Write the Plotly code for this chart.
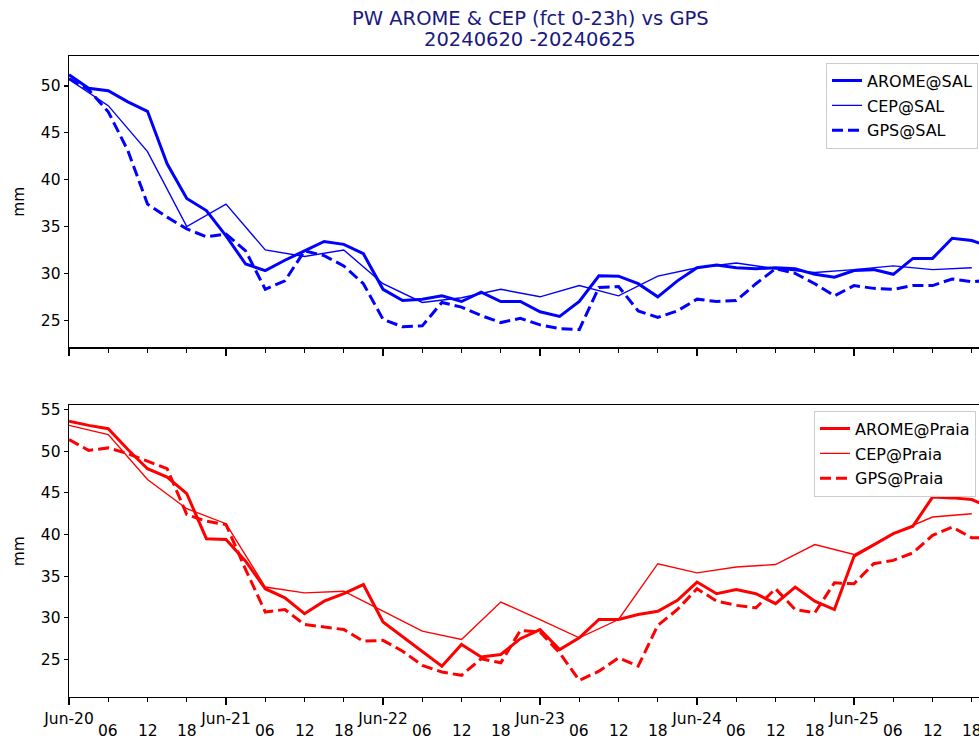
import pandas as pd
import plotly.graph_objects as go

# ---------------- data ----------------
t3 = pd.date_range("2024-06-20 00:00", periods=48, freq="3h")
t6 = pd.date_range("2024-06-20 00:00", periods=24, freq="6h")

arome_sal = [51.2, 49.75, 49.5, 48.3, 47.3, 41.7, 38.0, 36.7, 34.0, 31.0,
             30.3, 31.4, 32.4, 33.4, 33.1, 32.1, 28.3, 27.1, 27.25, 27.6,
             27.0, 28.0, 27.0, 27.0, 25.9, 25.4, 27.0, 29.75, 29.7, 28.9,
             27.5, 29.2, 30.6, 30.9, 30.6, 30.5, 30.6, 30.5, 29.9, 29.6,
             30.3, 30.4, 29.9, 31.6, 31.6, 33.75, 33.5, 32.8]
cep_sal = [50.7, 47.9, 43.0, 35.0, 37.4, 32.5, 31.8, 32.5, 28.9, 26.9, 27.4, 28.3,
           27.5, 28.7, 27.6, 29.7, 30.6, 31.1, 30.5, 30.1, 30.4, 30.8, 30.4, 30.6]
gps_sal = [50.8, 49.6, 47.25, 43.1, 37.4, 36.0, 34.75, 33.9, 34.2, 32.4,
           28.3, 29.2, 32.4, 31.9, 30.8, 28.9, 25.1, 24.3, 24.4, 26.9,
           26.4, 25.5, 24.75, 25.2, 24.5, 24.1, 24.0, 28.5, 28.6, 26.0,
           25.3, 26.0, 27.25, 27.0, 27.1, 28.9, 30.5, 30.0, 28.9, 27.6,
           28.7, 28.4, 28.3, 28.7, 28.7, 29.4, 29.1, 29.3]

arome_praia = [53.6, 53.1, 52.7, 50.2, 47.9, 46.9, 44.9, 39.5, 39.4, 36.8,
               33.5, 32.4, 30.5, 32.0, 32.9, 34.0, 29.5, 27.7, 26.0, 24.2,
               26.8, 25.3, 25.6, 27.5, 28.6, 26.2, 27.6, 29.8, 29.8, 30.4,
               30.8, 32.1, 34.3, 32.9, 33.4, 32.9, 31.7, 33.7, 32.0, 31.0,
               37.4, 38.8, 40.1, 41.0, 44.5, 44.4, 44.2, 43.2]
cep_praia = [53.1, 52.0, 46.6, 43.1, 41.3, 33.7, 33.0, 33.2, 30.8, 28.4, 27.4, 31.9,
             29.8, 27.6, 29.8, 36.5, 35.4, 36.1, 36.4, 38.8, 37.6, 40.1, 42.1, 42.5]
gps_praia = [51.4, 50.1, 50.4, 49.7, 48.8, 47.9, 42.4, 41.6, 41.2, 35.8,
             30.7, 31.0, 29.2, 28.9, 28.6, 27.2, 27.3, 26.0, 24.3, 23.5,
             23.1, 25.1, 24.6, 28.5, 28.3, 25.8, 22.5, 23.6, 25.2, 24.2,
             29.1, 31.0, 33.5, 32.0, 31.5, 31.2, 33.5, 31.0, 30.6, 34.2,
             34.1, 36.5, 36.9, 37.8, 39.9, 40.9, 39.6, 39.6]

day_ticks = pd.date_range("2024-06-20", periods=6, freq="D")
day_labels = [d.strftime("%b-%d") for d in day_ticks]
hour_ticks = [t for t in t6 if t.hour != 0]
hour_labels = [t.strftime("%H") for t in hour_ticks]

title1 = "PW AROME & CEP (fct 0-23h) vs GPS"
title2 = "20240620 -20240625"

# ---------------- figure ----------------
FONT = "DejaVu Sans"
BLUE = "#0000ff"
RED = "#ff0000"
TW, TN = 3.0, 1.4
DASH = "11px,5px"

W, H = 979, 740
L, T, B = 69, 56, 43
PH = H - T - B  # plot-area height

fig = go.Figure()

def add(x, y, name, color, width, dash, xa, ya, leg):
    fig.add_trace(go.Scatter(x=x, y=y, name=name, mode="lines",
                             line=dict(color=color, width=width, dash=dash),
                             xaxis=xa, yaxis=ya, legend=leg, legendgroup=name))

add(t3, arome_sal, "AROME@SAL", BLUE, TW, "solid", "x", "y", "legend")
add(t6, cep_sal, "CEP@SAL", BLUE, TN, "solid", "x", "y", "legend")
add(t3, gps_sal, "GPS@SAL", BLUE, TW, DASH, "x", "y", "legend")
add(t3, arome_praia, "AROME@Praia", RED, TW, "solid", "x2", "y2", "legend2")
add(t6, cep_praia, "CEP@Praia", RED, TN, "solid", "x2", "y2", "legend2")
add(t3, gps_praia, "GPS@Praia", RED, TW, DASH, "x2", "y2", "legend2")

x_start = t3[0]
x_end = t3[0] + pd.Timedelta(hours=139.1)

xcommon = dict(range=[x_start, x_end], showline=True, linecolor="black", linewidth=1.3,
               mirror=True, showgrid=False, zeroline=False,
               tickmode="array", tickvals=list(day_ticks), ticks="outside",
               ticklen=7, tickwidth=1.2, tickcolor="black",
               minor=dict(tickmode="array", tickvals=list(t6), ticks="outside",
                          ticklen=4, tickwidth=1.2, tickcolor="black", showgrid=False),
               tickfont=dict(family=FONT, size=15.5, color="black"))
ycommon = dict(showline=True, linecolor="black", linewidth=1.3, mirror=False,
               showgrid=False, zeroline=False, ticks="outside", ticklen=4,
               tickwidth=1.2, tickcolor="black", dtick=5, tick0=0,
               tickfont=dict(family=FONT, size=15.5, color="black"),
               title=dict(text="mm", font=dict(family=FONT, size=15.5, color="black"),
                          standoff=12))

def py(p):
    """reference page pixel -> paper y fraction"""
    return (697.3 - p) / PH

def px_(p):
    return (p - 69) / 910

top_dom = [py(347.7), 1.0]
bot_dom = [0.0, py(405.7)]

fig.update_layout(
    width=W, height=H,
    margin=dict(l=L, r=0, t=T, b=B, autoexpand=False),
    paper_bgcolor="white", plot_bgcolor="white",
    font=dict(family=FONT, size=15.5, color="black"),
    hovermode=False,
    xaxis=dict(**xcommon, anchor="y", domain=[0, 1], showticklabels=False),
    xaxis2=dict(**xcommon, anchor="y2", domain=[0, 1], matches="x",
                ticktext=day_labels, showticklabels=True),
    yaxis=dict(**ycommon, anchor="x", domain=top_dom, range=[22.1, 53.2]),
    yaxis2=dict(**ycommon, anchor="x2", domain=bot_dom, range=[20.5, 55.5]),
    legend=dict(x=px_(826), y=py(63), xanchor="left", yanchor="top",
                bgcolor="rgba(255,255,255,0.8)", bordercolor="#cccccc", borderwidth=1,
                font=dict(family=FONT, size=16, color="black"),
                tracegroupgap=1, traceorder="grouped"),
    legend2=dict(x=px_(814), y=py(411), xanchor="left", yanchor="top",
                 bgcolor="rgba(255,255,255,0.8)", bordercolor="#cccccc", borderwidth=1,
                 font=dict(family=FONT, size=16, color="black"),
                 tracegroupgap=1, traceorder="grouped"),
    showlegend=True,
)

fig.add_annotation(text=title1, xref="paper", yref="paper",
                   x=px_(530), y=py(19), xanchor="center", yanchor="middle",
                   showarrow=False, font=dict(family=FONT, size=19.5, color="#191980"))
fig.add_annotation(text=title2, xref="paper", yref="paper",
                   x=px_(530), y=py(40), xanchor="center", yanchor="middle",
                   showarrow=False, font=dict(family=FONT, size=19.5, color="#191980"))

for t, lab in zip(hour_ticks, hour_labels):
    fig.add_annotation(text=lab, x=t, xref="x2", yref="paper",
                       y=py(731), xanchor="center", yanchor="middle", borderpad=0,
                       showarrow=False, font=dict(family=FONT, size=15.5, color="black"))

fig.write_html(
    "out.html",
    config={"displayModeBar": False, "staticPlot": True},
    post_script="document.body.style.margin='0';document.body.style.overflow='hidden';"
                "document.documentElement.style.overflow='hidden';",
)
